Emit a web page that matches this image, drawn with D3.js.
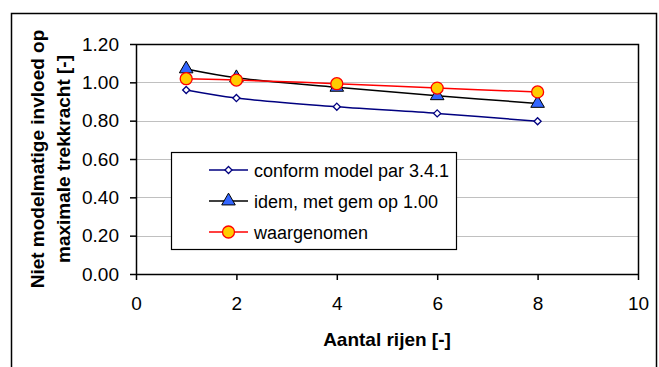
<!DOCTYPE html>
<html>
<head>
<meta charset="utf-8">
<script src="https://cdn.jsdelivr.net/npm/d3@7"></script>
<style>
    body { margin: 0; background: #fff; }
    svg { display: block; font-family: "Liberation Sans", Arial, sans-serif; }
    .axis path, .axis line { stroke: #000; }
    .axis text { font-size: 19px; fill: #000; }
</style>
</head>
<body>
<svg id="chart"></svg>
<script>
// aantal rijen
const rows = [1, 2, 4, 6, 8];
// conform model par 3.4.1
const conformModel = [0.96, 0.918, 0.873, 0.838, 0.797];
// idem, met gem op 1.00
const idemGem = [1.07, 1.024, 0.974, 0.93, 0.89];
// waargenomen
const waargenomen = [1.019, 1.012, 0.993, 0.97, 0.95];

const xTicks = [0, 2, 4, 6, 8, 10];
const yTicks = [0, 0.2, 0.4, 0.6, 0.8, 1.0, 1.2];

const seriesNames = ['conform model par 3.4.1', 'idem, met gem op 1.00', 'waargenomen'];

const width = 659, height = 367;
const plot = { left: 136, right: 638, top: 44, bottom: 274 };

const svg = d3.select('#chart')
    .attr('width', width)
    .attr('height', height);

// outer chart frame
svg.append('rect')
    .attr('x', 11.5)
    .attr('y', 13.5)
    .attr('width', 645)
    .attr('height', 380)
    .attr('fill', '#fff')
    .attr('stroke', '#000')
    .attr('stroke-width', 1.5);

const xScale = d3.scaleLinear().domain([0, 10]).range([plot.left, plot.right]);
const yScale = d3.scaleLinear().domain([0, 1.2]).range([plot.bottom, plot.top]);

// gridlines
svg.append('g')
    .selectAll('line')
    .data(yTicks.filter(d => d > 0 && d < 1.2))
    .join('line')
    .attr('x1', plot.left)
    .attr('x2', plot.right)
    .attr('y1', d => Math.round(yScale(d)) + 0.5)
    .attr('y2', d => Math.round(yScale(d)) + 0.5)
    .attr('stroke', '#c0c0c0')
    .attr('stroke-width', 1);

// plot border top/right
svg.append('path')
    .attr('d', `M${plot.left},${plot.top + 0.5}H${plot.right + 0.5}V${plot.bottom}`)
    .attr('fill', 'none')
    .attr('stroke', '#000')
    .attr('stroke-width', 1.5);

const xAxis = d3.axisBottom(xScale)
    .tickValues(xTicks)
    .tickSize(6)
    .tickSizeOuter(0)
    .tickPadding(17)
    .tickFormat(d3.format('d'));

const yAxis = d3.axisLeft(yScale)
    .tickValues(yTicks)
    .tickSize(6)
    .tickSizeOuter(0)
    .tickPadding(11)
    .tickFormat(d3.format('.2f'));

svg.append('g')
    .attr('class', 'axis x-axis')
    .attr('transform', `translate(0,${plot.bottom})`)
    .call(xAxis)
    .call(g => g.selectAll('path, line').attr('stroke-width', 1.5));

svg.append('g')
    .attr('class', 'axis y-axis')
    .attr('transform', `translate(${plot.left},0)`)
    .call(yAxis)
    .call(g => g.selectAll('path, line').attr('stroke-width', 1.5));

// axis titles
svg.append('text')
    .attr('x', (plot.left + plot.right) / 2)
    .attr('y', 346)
    .attr('text-anchor', 'middle')
    .style('font-size', '19px')
    .style('font-weight', 'bold')
    .text('Aantal rijen [-]');

const yTitle = svg.append('text')
    .attr('transform', `translate(44,${(plot.top + plot.bottom) / 2}) rotate(-90)`)
    .attr('text-anchor', 'middle')
    .style('font-size', '19px')
    .style('font-weight', 'bold');
yTitle.append('tspan').attr('x', 0).attr('y', 0).text('Niet modelmatige invloed op');
yTitle.append('tspan').attr('x', 0).attr('y', 26).text('maximale trekkracht [-]');

const line = d3.line()
    .x(d => xScale(d.x))
    .y(d => yScale(d.y))
    .curve(d3.curveCatmullRom);

const toPoints = values => rows.map((r, i) => ({ x: r, y: values[i] }));

const diamond = d3.symbol().type(d3.symbolDiamond2).size(32);
const triangle = d3.symbol().type(d3.symbolTriangle).size(80);

function drawMarker(g, type, x, y) {
    if (type === 0) {
        g.append('path')
            .attr('d', diamond())
            .attr('transform', `translate(${x},${y})`)
            .attr('fill', '#fff')
            .attr('stroke', '#000080')
            .attr('stroke-width', 1.3);
    } else if (type === 1) {
        g.append('path')
            .attr('d', triangle())
            .attr('transform', `translate(${x},${y})`)
            .attr('fill', '#3366ff')
            .attr('stroke', '#000')
            .attr('stroke-width', 1);
    } else {
        g.append('circle')
            .attr('cx', x)
            .attr('cy', y)
            .attr('r', 6)
            .attr('fill', '#ffcc00')
            .attr('stroke', '#ff0000')
            .attr('stroke-width', 1.3);
    }
}

const seriesData = [conformModel, idemGem, waargenomen];
const lineColors = ['#000080', '#000000', '#ff0000'];

seriesData.forEach((values, i) => {
    const g = svg.append('g');
    g.append('path')
        .datum(toPoints(values))
        .attr('d', line)
        .attr('fill', 'none')
        .attr('stroke', lineColors[i])
        .attr('stroke-width', 1.5);
    toPoints(values).forEach(p => drawMarker(g, i, xScale(p.x), yScale(p.y)));
});

// legend
const legend = svg.append('g');
legend.append('rect')
    .attr('x', 171.5)
    .attr('y', 152.5)
    .attr('width', 285)
    .attr('height', 97)
    .attr('fill', '#fff')
    .attr('stroke', '#000')
    .attr('stroke-width', 1.2);

const legendY = [170, 201, 232];
seriesNames.forEach((name, i) => {
    const y = legendY[i];
    legend.append('line')
        .attr('x1', 209)
        .attr('x2', 248)
        .attr('y1', y)
        .attr('y2', y)
        .attr('stroke', lineColors[i])
        .attr('stroke-width', 1.5);
    drawMarker(legend, i, 228.5, y);
    legend.append('text')
        .attr('x', 254)
        .attr('y', y + 6.5)
        .style('font-size', '18px')
        .text(name);
});
</script>
</body>
</html>
